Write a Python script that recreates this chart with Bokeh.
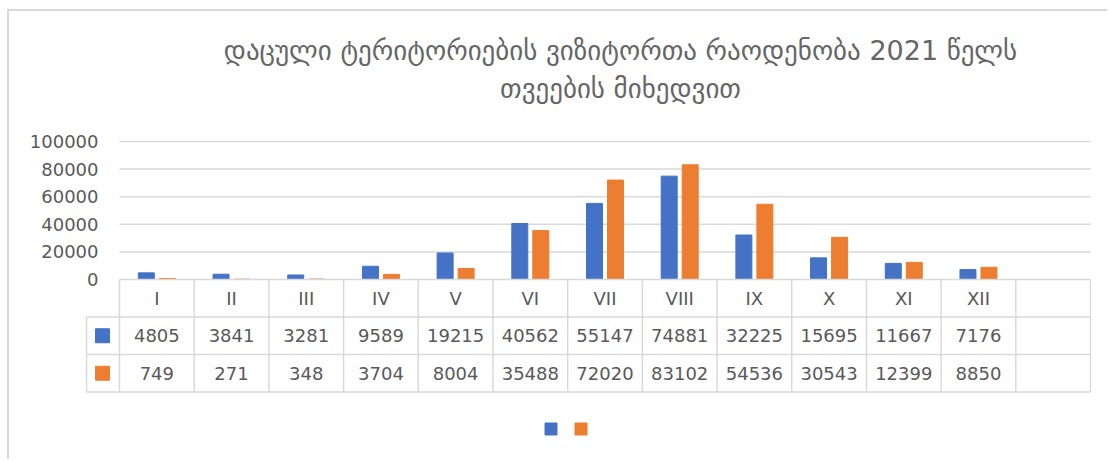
from bokeh.plotting import figure
from bokeh.models import (Range1d, FixedTicker, Label, Legend, LegendItem,
                          BasicTickFormatter)
from bokeh.layouts import column
from bokeh.embed import file_html
from bokeh.resources import INLINE
from bokeh.core.properties import value

# ---------------- data ----------------
categories = ["I", "II", "III", "IV", "V", "VI", "VII", "VIII", "IX", "X", "XI", "XII", ""]
series_a = [4805, 3841, 3281, 9589, 19215, 40562, 55147, 74881, 32225, 15695, 11667, 7176]
series_b = [749, 271, 348, 3704, 8004, 35488, 72020, 83102, 54536, 30543, 12399, 8850]
y_ticks = [0, 20000, 40000, 60000, 80000, 100000]
title_line1 = "დაცული ტერიტორიების ვიზიტორთა რაოდენობა 2021 წელს"
title_line2 = "თვეების მიხედვით"
colors = ["#4472C4", "#ED7D31"]

TXT = "#595959"
TITLE_C = "#666666"
LINE = "#d9d9d9"
FONT = "DejaVu Sans"

# ---------------- geometry (screen px) ----------------
ox, oy = 9, 11                      # origin of the figure on the page
W, H = 1098, 448
n_cat = len(categories)
frame_l, frame_r = 85, 1091
frame_t, frame_b = oy, oy + H       # frame covers the full height (title inside)
base_y = 279                        # screen y of value 0 / table top
top_y = 140                         # screen y of value 100700
u = 971.0 / n_cat                   # px per category
x_start = -(119 - frame_l) / u
x_end = (frame_r - 119) / u
ppu = (base_y - top_y) / 100700.0
y_start = -(frame_b - base_y) / ppu
y_end = (base_y - frame_t) / ppu
row_h = 37.5
tab_range = Range1d(start=(frame_b - base_y) / row_h, end=-(base_y - frame_t) / row_h)

p = figure(width=W, height=H, output_backend="svg", toolbar_location=None,
           title=None, x_range=Range1d(x_start, x_end), y_range=Range1d(y_start, y_end),
           x_axis_location=None, min_border_left=frame_l - ox,
           min_border_right=ox + W - frame_r, min_border_top=0,
           min_border_bottom=0)
p.extra_y_ranges = {"table": tab_range}
p.outline_line_color = None
p.xgrid.visible = False
p.ygrid.visible = False
p.background_fill_color = "white"
p.border_fill_color = "white"

ax = p.yaxis[0]
ax.ticker = FixedTicker(ticks=y_ticks)
ax.formatter = BasicTickFormatter(use_scientific=False)
ax.axis_line_color = None
ax.major_tick_line_color = None
ax.minor_tick_line_color = None
ax.major_tick_in = 0
ax.major_tick_out = 0
ax.major_label_standoff = -13
ax.major_label_text_font = FONT
ax.major_label_text_font_size = "18px"
ax.major_label_text_color = TXT

# gridlines (from tick values)
gl = [t for t in y_ticks if t > 0]
p.segment(x0=[0] * len(gl), x1=[n_cat] * len(gl), y0=gl, y1=gl,
          line_color=LINE, line_width=1.5)

# bars
bw = 16 / u
off = 10.5 / u
xa = [i + 0.5 - off for i in range(len(series_a))]
xb = [i + 0.5 + off for i in range(len(series_b))]
ra = p.vbar(x=xa, top=series_a, bottom=0, width=bw, fill_color=colors[0], line_color=colors[0])
rb = p.vbar(x=xb, top=series_b, bottom=0, width=bw, fill_color=colors[1], line_color=colors[1])

# ---------------- data table ----------------
col_l = -(119 - 86) / u
hx0 = [0, col_l, col_l, col_l]
hx1 = [n_cat] * 4
hy = [0, 1, 2, 3]
p.segment(x0=hx0, x1=hx1, y0=hy, y1=hy, line_color=LINE, line_width=1.5, y_range_name="table")
vx = [col_l] + list(range(n_cat + 1))
vy0 = [1] + [0] * (n_cat + 1)
vy1 = [3] * (n_cat + 2)
p.segment(x0=vx, x1=vx, y0=vy0, y1=vy1, line_color=LINE, line_width=1.5, y_range_name="table")

txt_kw = dict(text_font=value(FONT), text_font_size="18px", text_color=TXT,
              text_align="center", text_baseline="middle", y_range_name="table")
p.text(x=[i + 0.5 for i in range(n_cat)], y=[0.5] * n_cat, text=categories, **txt_kw)
p.text(x=[i + 0.5 for i in range(len(series_a))], y=[1.5] * len(series_a),
       text=[str(v) for v in series_a], **txt_kw)
p.text(x=[i + 0.5 for i in range(len(series_b))], y=[2.5] * len(series_b),
       text=[str(v) for v in series_b], **txt_kw)

p.scatter(x=[-17 / u, -17 / u], y=[1.5, 2.5], marker="square", size=14,
          fill_color=colors, line_color=colors, y_range_name="table")

# legend (series without names)
legend = Legend(items=[LegendItem(label=value(""), renderers=[ra]),
                       LegendItem(label=value(""), renderers=[rb])],
                orientation="horizontal", location=(543 - frame_l, frame_b - 436),
                glyph_width=15, glyph_height=15, label_width=0, label_height=15,
                label_standoff=0, spacing=15, padding=0, margin=0,
                border_line_color=None, background_fill_alpha=0,
                label_text_font_size="1px")
p.add_layout(legend)

# two-line chart title, centred at screen x=620, lines at screen y=50 and 88
tx = (620 - 119) / u
for line, sy in ((title_line1, 50), (title_line2, 88)):
    p.add_layout(Label(x=tx, y=(base_y - sy) / ppu, text=line,
                       text_align="center", text_baseline="middle",
                       text_font=FONT, text_font_size="27px", text_color=TITLE_C))

layout = column(p, styles={"border-left": "2px solid #d9d9d9",
                           "border-top": "2px solid #d9d9d9",
                           "margin-left": "7px", "margin-top": "9px"})

open("out.html", "w").write(file_html(layout, INLINE))
